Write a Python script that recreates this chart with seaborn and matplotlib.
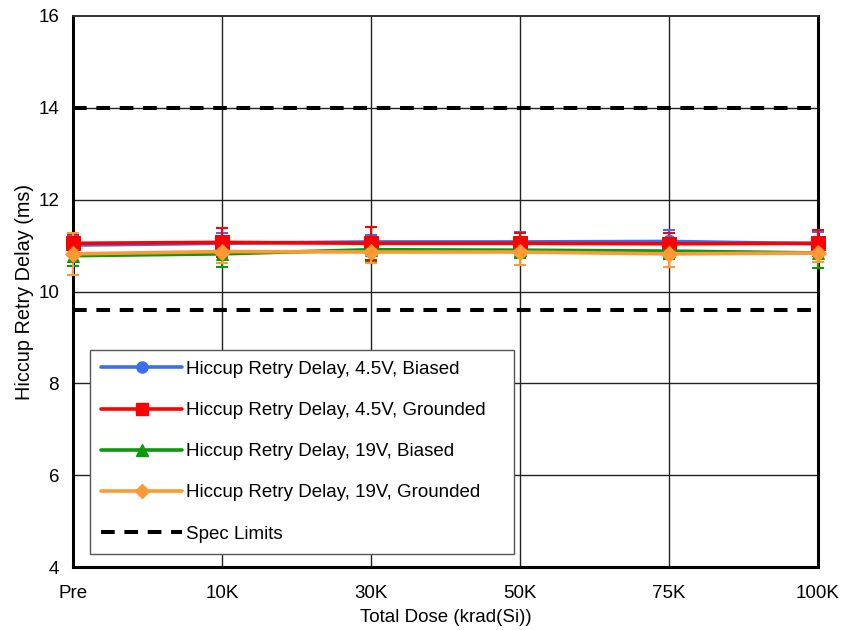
import matplotlib
matplotlib.use("Agg")
import matplotlib.pyplot as plt
import pandas as pd
import seaborn as sns
from matplotlib.lines import Line2D

# data
doses = ['Pre', '10K', '30K', '50K', '75K', '100K']
bias_45 = [11.01, 11.05, 11.08, 11.08, 11.09, 11.04]
bias_45_err = [0.23, 0.23, 0.16, 0.22, 0.24, 0.26]
gnd_45 = [11.05, 11.07, 11.05, 11.05, 11.04, 11.05]
gnd_45_err = [0.21, 0.31, 0.36, 0.22, 0.24, 0.28]
bias_19 = [10.78, 10.82, 10.91, 10.90, 10.88, 10.84]
bias_19_err = [0.22, 0.28, 0.26, 0.18, 0.18, 0.33]
gnd_19 = [10.82, 10.87, 10.86, 10.86, 10.82, 10.84]
gnd_19_err = [0.45, 0.26, 0.23, 0.29, 0.28, 0.20]
spec_hi = 14.0
spec_lo = 9.6

names = ['Hiccup Retry Delay, 4.5V, Biased',
         'Hiccup Retry Delay, 4.5V, Grounded',
         'Hiccup Retry Delay, 19V, Biased',
         'Hiccup Retry Delay, 19V, Grounded']
vals = [bias_45, gnd_45, bias_19, gnd_19]
errs = [bias_45_err, gnd_45_err, bias_19_err, gnd_19_err]
colors = ['#3a6ff5', '#ff0000', '#0a9a0a', '#ff9933']
marks = ['o', 's', '^', 'D']
msizes = [9, 10, 9, 8]

rows = []
for n, v in zip(names, vals):
    for i, y in enumerate(v):
        rows.append({'series': n, 'x': i, 'y': y})
df = pd.DataFrame(rows)

sns.set_style('white')
plt.rcParams['font.family'] = ['Liberation Sans', 'DejaVu Sans']
plt.rcParams['text.color'] = 'black'
plt.rcParams['axes.labelcolor'] = 'black'

fig = plt.figure(figsize=(8.41, 6.3), dpi=100)
ax = fig.add_axes([73/841, 1-567/630, 745/841, 551/630])

# grid
for yv in [6, 8, 10, 12, 14]:
    ax.axhline(yv, color='#222222', lw=1.0, zorder=0)
for xv in range(1, 5):
    ax.axvline(xv, color='#222222', lw=1.0, zorder=0)

spec_ls = (0, (3.4, 2.4))
ax.axhline(spec_hi, color='black', lw=2.9, ls=spec_ls, zorder=1)
ax.axhline(spec_lo, color='black', lw=2.9, ls=spec_ls, zorder=1)

for n, v, e, c, m, ms in zip(names, vals, errs, colors, marks, msizes):
    eb = ax.errorbar(range(len(doses)), v, yerr=e, fmt='none', ecolor=c,
                     elinewidth=1.5, capsize=4, capthick=1.5, zorder=3)
    for art in eb.lines[1] + eb.lines[2]:
        art.set_clip_on(False)
    sub = df[df.series == n]
    sns.lineplot(data=sub, x='x', y='y', ax=ax, color=c, lw=2.6,
                 marker=m, markersize=ms, markeredgecolor=c, zorder=4,
                 legend=False, clip_on=False)

ax.set_xlim(0, 5)
ax.set_ylim(4, 16)
ax.set_xticks(range(len(doses)))
ax.set_xticklabels(doses)
ax.set_yticks([4, 6, 8, 10, 12, 14, 16])
ax.tick_params(axis='both', length=0, labelsize=13.5, colors='black')
ax.tick_params(axis='x', pad=13)
ax.tick_params(axis='y', pad=10)
ax.set_xlabel('Total Dose (krad(Si))', fontsize=13.5, labelpad=5)
ax.set_ylabel('Hiccup Retry Delay (ms)', fontsize=14.3, labelpad=3)

for s in ['left', 'bottom', 'right']:
    ax.spines[s].set_color('black')
    ax.spines[s].set_linewidth(2.2)
ax.spines['top'].set_color('#333333')
ax.spines['top'].set_linewidth(1.4)

handles = []
for n, c, m, ms in zip(names, colors, marks, msizes):
    handles.append(Line2D([], [], color=c, lw=2.6, marker=m, markersize=ms - 1,
                          markeredgecolor=c, label=n))
handles.append(Line2D([], [], color='black', lw=2.9, ls=spec_ls,
                      label='Spec Limits'))
leg = ax.legend(handles=handles, loc='lower left',
                bbox_to_anchor=(0.023, 0.024, 0.569, 0.372), mode='expand',
                borderaxespad=0, fontsize=13.5, frameon=True, fancybox=False,
                edgecolor='#555555', handlelength=4.3, handletextpad=0.2,
                labelspacing=1.28, borderpad=0.6)
leg.get_frame().set_linewidth(1.0)
leg.get_frame().set_alpha(1)
leg.set_zorder(10)

fig.savefig('out.png', dpi=100)
